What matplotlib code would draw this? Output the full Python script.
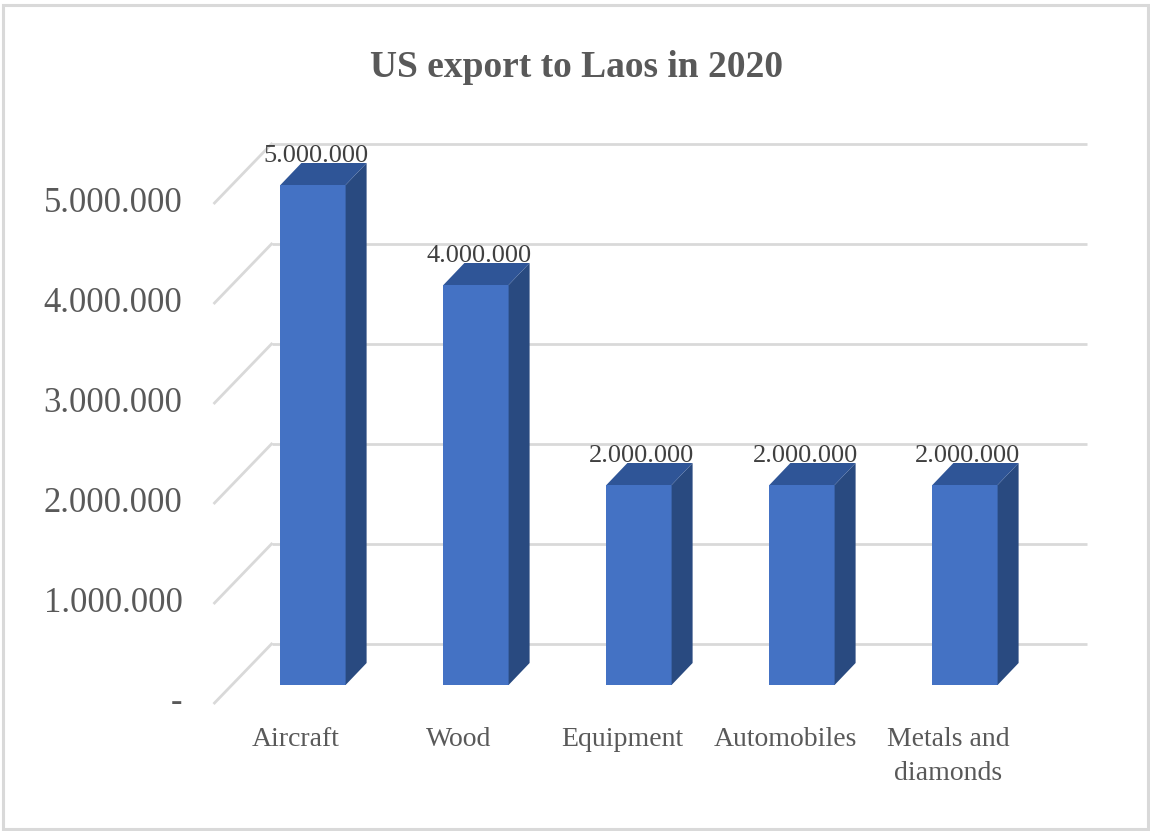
import matplotlib
matplotlib.use("Agg")
import matplotlib.pyplot as plt
from matplotlib.patches import Polygon, Rectangle
from matplotlib.transforms import ScaledTranslation

# ---- data -------------------------------------------------------------
categories = ["Aircraft", "Wood", "Equipment", "Automobiles", "Metals and\ndiamonds"]
export_values = [5_000_000, 4_000_000, 2_000_000, 2_000_000, 2_000_000]
tick_values = [0, 1_000_000, 2_000_000, 3_000_000, 4_000_000, 5_000_000]
tick_labels = ["-", "1.000.000", "2.000.000", "3.000.000", "4.000.000", "5.000.000"]
title = "US export to Laos in 2020"

# ---- style -------------------------------------------------------------
FRONT = "#4472C4"
TOP = "#2F5597"
SIDE = "#294A80"
GRID = "#D9D9D9"
TEXT = "#595959"
LABEL = "#404040"
SERIF = ["Liberation Serif", "DejaVu Serif"]

W, H, DPI = 1150, 831, 100
fig = plt.figure(figsize=(W / DPI, H / DPI), dpi=DPI)
fig.patch.set_facecolor("white")
ax = fig.add_axes([0, 0, 1, 1])
ax.set_axis_off()

# linear scales: one category step = 163 px, one million = 100 px
x0 = -313 / 163
ax.set_xlim(x0, x0 + W / 163)
y0 = -(H - 685) * 1e4
ax.set_ylim(y0, y0 + H * 1e4)
ux = (ax.get_xlim()[1] - ax.get_xlim()[0]) / W   # data units per pixel
uy = (ax.get_ylim()[1] - ax.get_ylim()[0]) / H

def shifted(dx_px, dy_px):
    """data transform shifted by a pixel offset (dy positive = up)"""
    return ax.transData + ScaledTranslation(dx_px / DPI, dy_px / DPI, fig.dpi_scale_trans)

# depth offsets (pixels) relative to the bar front plane
FRONT_PLANE = (-17, -18)
BACK_WALL = (40, 41)
BAR_DEPTH = (21, 22)

n = len(categories)
idx = list(range(n))
left, right = -0.5, n - 0.5

# back-wall gridlines and side-wall diagonals
for v in tick_values:
    ax.plot([left, right], [v, v], color=GRID, lw=2, zorder=1,
            transform=shifted(*BACK_WALL), solid_capstyle="butt")
    fx, fy = FRONT_PLANE
    bx, by = BACK_WALL
    ax.plot([left + fx * ux, left + bx * ux], [v + fy * uy, v + by * uy],
            color=GRID, lw=2, zorder=1)

# y tick labels on the front plane
for v, lab in zip(tick_values, tick_labels):
    ax.text(left, v, lab, ha="right", va="center", fontsize=25, color=TEXT,
            family=SERIF, transform=shifted(FRONT_PLANE[0] - 32, FRONT_PLANE[1]))

# bars: front faces
width = 0.4
ax.bar(idx, export_values, width=width, color=FRONT, zorder=3)

dxb, dyb = BAR_DEPTH[0] * ux, BAR_DEPTH[1] * uy
for i, v in zip(idx, export_values):
    xl, xr = i - width / 2, i + width / 2
    side = Polygon([(xr, 0), (xr + dxb, dyb), (xr + dxb, v + dyb), (xr, v)],
                   closed=True, facecolor=SIDE, edgecolor="none", zorder=3)
    top = Polygon([(xl, v), (xr, v), (xr + dxb, v + dyb), (xl + dxb, v + dyb)],
                  closed=True, facecolor=TOP, edgecolor="none", zorder=3)
    ax.add_patch(side)
    ax.add_patch(top)
    # value label just above the bar's back edge
    ax.text(i, v, f"{v:,.0f}".replace(",", "."), ha="center", va="baseline",
            fontsize=19, color=LABEL, family=SERIF, zorder=4,
            transform=shifted(3, BAR_DEPTH[1] + 1))

# category labels on the front plane
for i, cat in zip(idx, categories):
    ax.text(i, 0, cat, ha="center", va="top", fontsize=20, color=TEXT,
            family=SERIF, linespacing=1.45,
            transform=shifted(FRONT_PLANE[0], FRONT_PLANE[1] - 24))

# title
fig.text(577 / W, 1 - 77 / H, title, ha="center", va="baseline", fontsize=27,
         fontweight="bold", color=TEXT, family=SERIF)

# chart frame
fig.patches.append(Rectangle((3 / W, 2 / H), 1145 / W, 824 / H, transform=fig.transFigure,
                             fill=False, edgecolor=GRID, lw=2.2))
fig.patches.append(Rectangle((3 / W, 1 - 7 / H), 1145 / W, 3 / H, transform=fig.transFigure,
                             facecolor=GRID, edgecolor="none"))

fig.savefig("out.png", dpi=DPI, facecolor="white")
